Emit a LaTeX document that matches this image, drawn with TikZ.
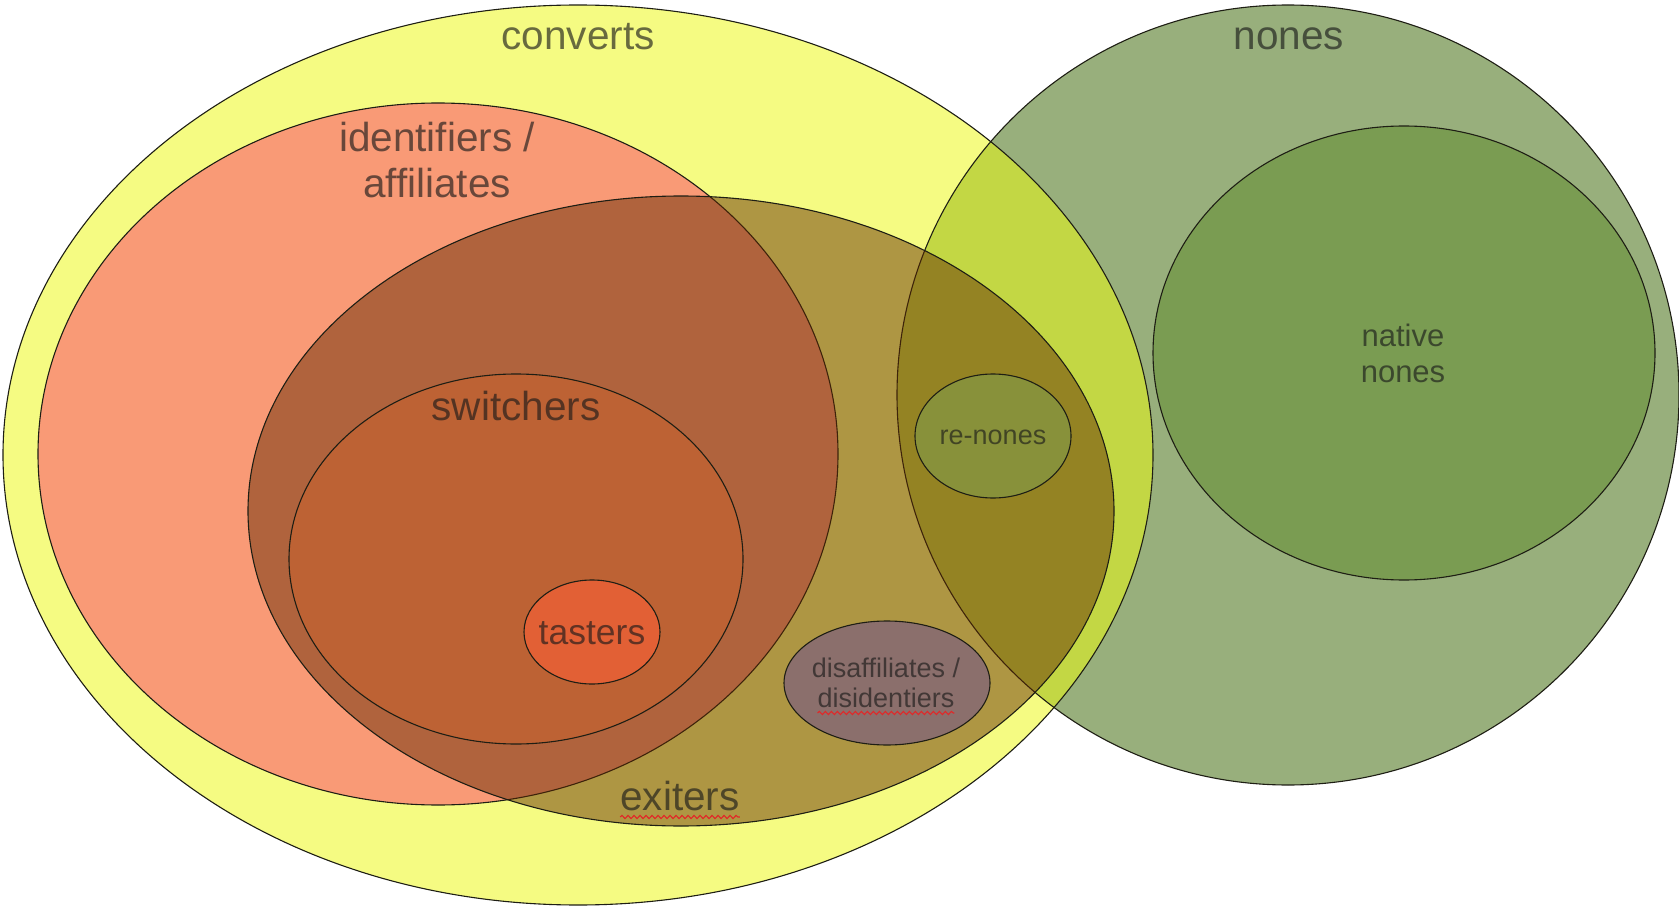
\documentclass[tikz,border=0pt]{standalone}
\usepackage{fontspec}
\setmainfont{Liberation Sans}
\usetikzlibrary{decorations.pathmorphing}
\definecolor{cyel}{RGB}{245,251,130}
\definecolor{cnone}{RGB}{152,175,124}
\definecolor{cmix}{RGB}{195,215,68}
\definecolor{cnative}{RGB}{122,156,82}
\definecolor{csalmon}{RGB}{249,154,118}
\definecolor{cexit}{RGB}{97,41,0}
\definecolor{cswitch}{RGB}{189,98,52}
\definecolor{ctaste}{RGB}{226,96,53}
\definecolor{crenone}{RGB}{136,145,58}
\definecolor{cdis}{RGB}{139,111,108}
\definecolor{cline}{RGB}{30,30,20}
\definecolor{csquig}{RGB}{225,40,40}
\begin{document}
\begin{tikzpicture}[x=1pt,y=-1pt,
  outl/.style={draw=cline, line width=1.1pt},
  lbl/.style={inner sep=0pt, anchor=base, text=black!90, text opacity=0.64},
  big/.style={lbl, font=\fontsize{40.5}{46}\selectfont},
  mid/.style={lbl, font=\fontsize{35.5}{40}\selectfont},
  med/.style={lbl, font=\fontsize{31}{36}\selectfont},
  sml/.style={lbl, font=\fontsize{27}{31}\selectfont},
  squig/.style={draw=csquig, line width=1.1pt, decorate,
    decoration={snake, amplitude=1.6pt, segment length=6pt}}]
\useasboundingbox (0,0) rectangle (1679,909);
\fill[white] (0,0) rectangle (1679,909);
% nones and converts
\path[fill=cnone] (1288,395) ellipse [x radius=391pt, y radius=390pt];
\path[fill=cyel] (578,455) ellipse [x radius=575pt, y radius=450pt];
\begin{scope}
  \clip (578,455) ellipse [x radius=575pt, y radius=450pt];
  \fill[cmix] (1288,395) ellipse [x radius=391pt, y radius=390pt];
\end{scope}
\draw[outl] (1288,395) ellipse [x radius=391pt, y radius=390pt];
\draw[outl] (578,455) ellipse [x radius=575pt, y radius=450pt];
% native nones
\path[fill=cnative, outl] (1404,353) ellipse [x radius=251pt, y radius=227pt];
% identifiers / affiliates
\path[fill=csalmon, outl] (438,454) ellipse [x radius=400pt, y radius=351pt];
% exiters (translucent)
\fill[cexit, fill opacity=0.48] (681,511) ellipse [x radius=433pt, y radius=315pt];
\draw[outl] (681,511) ellipse [x radius=433pt, y radius=315pt];
% switchers
\path[fill=cswitch, outl] (516,559) ellipse [x radius=227pt, y radius=185pt];
% tasters
\path[fill=ctaste, outl] (592,632) ellipse [x radius=68pt, y radius=52pt];
% re-nones
\path[fill=crenone, outl] (993,436) ellipse [x radius=78pt, y radius=62pt];
% disaffiliates
\path[fill=cdis, outl] (887,683) ellipse [x radius=103pt, y radius=62pt];
% labels
\node[big] (lconv) at (578,50) {converts};
\node[big] (lnones) at (1289,50) {nones};
\node[big] (lid1) at (437,152) {identifiers /};
\node[big] (lid2) at (437,198) {affiliates};
\node[big] (lsw) at (516,420) {switchers};
\node[mid] (ltas) at (592,644) {tasters};
\node[big] (lex) at (680,810) {exiters};
\node[sml] (lre) at (993,444) {re-nones};
\node[med] (lnat1) at (1403,346) {native};
\node[med] (lnat2) at (1403,382) {nones};
\node[sml] (ldis1) at (886,677) {disaffiliates /};
\node[sml] (ldis2) at (886,707) {disidentiers};
\draw[squig] ([yshift=-7pt]lex.base west) -- ([yshift=-7pt]lex.base east);
\draw[squig] ([yshift=-6pt]ldis2.base west) -- ([yshift=-6pt]ldis2.base east);
\end{tikzpicture}
\end{document}
